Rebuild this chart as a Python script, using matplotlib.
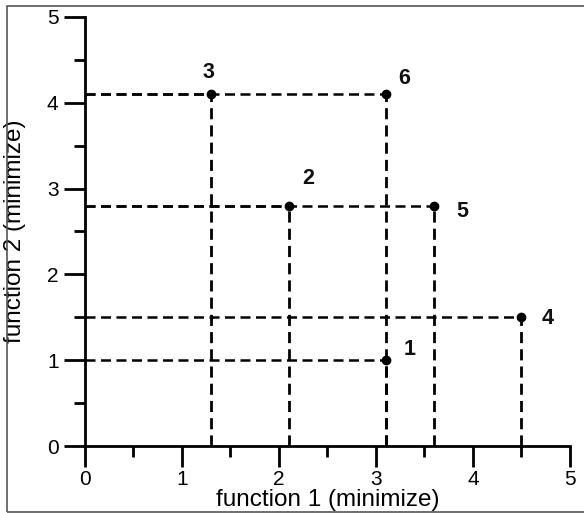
import matplotlib
matplotlib.use("Agg")
import matplotlib.pyplot as plt
from matplotlib.patches import Rectangle

plt.rcParams['font.family'] = ['Liberation Sans', 'DejaVu Sans']

labels = ["1", "2", "3", "4", "5", "6"]
f1 = [3.1, 2.1, 1.3, 4.5, 3.6, 3.1]
f2 = [1.0, 2.8, 4.1, 1.5, 2.8, 4.1]
label_dx = [0.25, 0.20, -0.03, 0.27, 0.29, 0.19]
label_dy = [0.12, 0.32, 0.25, -0.01, -0.07, 0.18]

fig = plt.figure(figsize=(5.84, 5.13), dpi=100)
ax = fig.add_axes([0.1455, 0.1306, 0.8305, 0.8363])

dash = (0, (4, 2.2))
for x, y in zip(f1, f2):
    ax.plot([0, x], [y, y], ls=dash, color='black', lw=1.8, zorder=2)
    ax.plot([x, x], [0, y], ls=dash, color='black', lw=2.0, zorder=2)
ax.plot(f1, f2, 'o', color='black', ms=6, zorder=3)
for lab, x, y, dx, dy in zip(labels, f1, f2, label_dx, label_dy):
    ax.text(x + dx, y + dy, lab, fontsize=15.5, fontweight='bold', ha='center',
            va='center', color='#111111')

ax.set_xlim(0, 5)
ax.set_ylim(0, 5)
ax.spines['top'].set_visible(False)
ax.spines['right'].set_visible(False)
for s in ['left', 'bottom']:
    ax.spines[s].set_linewidth(2)
ax.set_xticks([0, 1, 2, 3, 4, 5])
ax.set_yticks([0, 1, 2, 3, 4, 5])
ax.set_xticks([0.5, 1.5, 2.5, 3.5, 4.5], minor=True)
ax.set_yticks([0.5, 1.5, 2.5, 3.5, 4.5], minor=True)
ax.tick_params(which='major', length=15, width=2, labelsize=15, direction='out')
ax.tick_params(axis='x', which='major', pad=2.5)
ax.tick_params(axis='y', which='major', pad=4)
ax.tick_params(which='minor', length=8, width=2, direction='out')
ax.set_xlabel('function 1 (minimize)', fontsize=17.5)
ax.set_ylabel('function 2 (minimize)', fontsize=17.5)
ax.xaxis.set_label_coords(0.5, -0.126)
ax.yaxis.set_label_coords(-0.144, 0.5)
ax.xaxis.label.set_va('center')
ax.yaxis.label.set_va('center')

fig.patches.append(Rectangle((7/584, 1/513), 1.1, 1 - 7/513, transform=fig.transFigure,
                             fill=False, edgecolor='#555555', lw=1.2))

fig.savefig('out.png', dpi=100)
